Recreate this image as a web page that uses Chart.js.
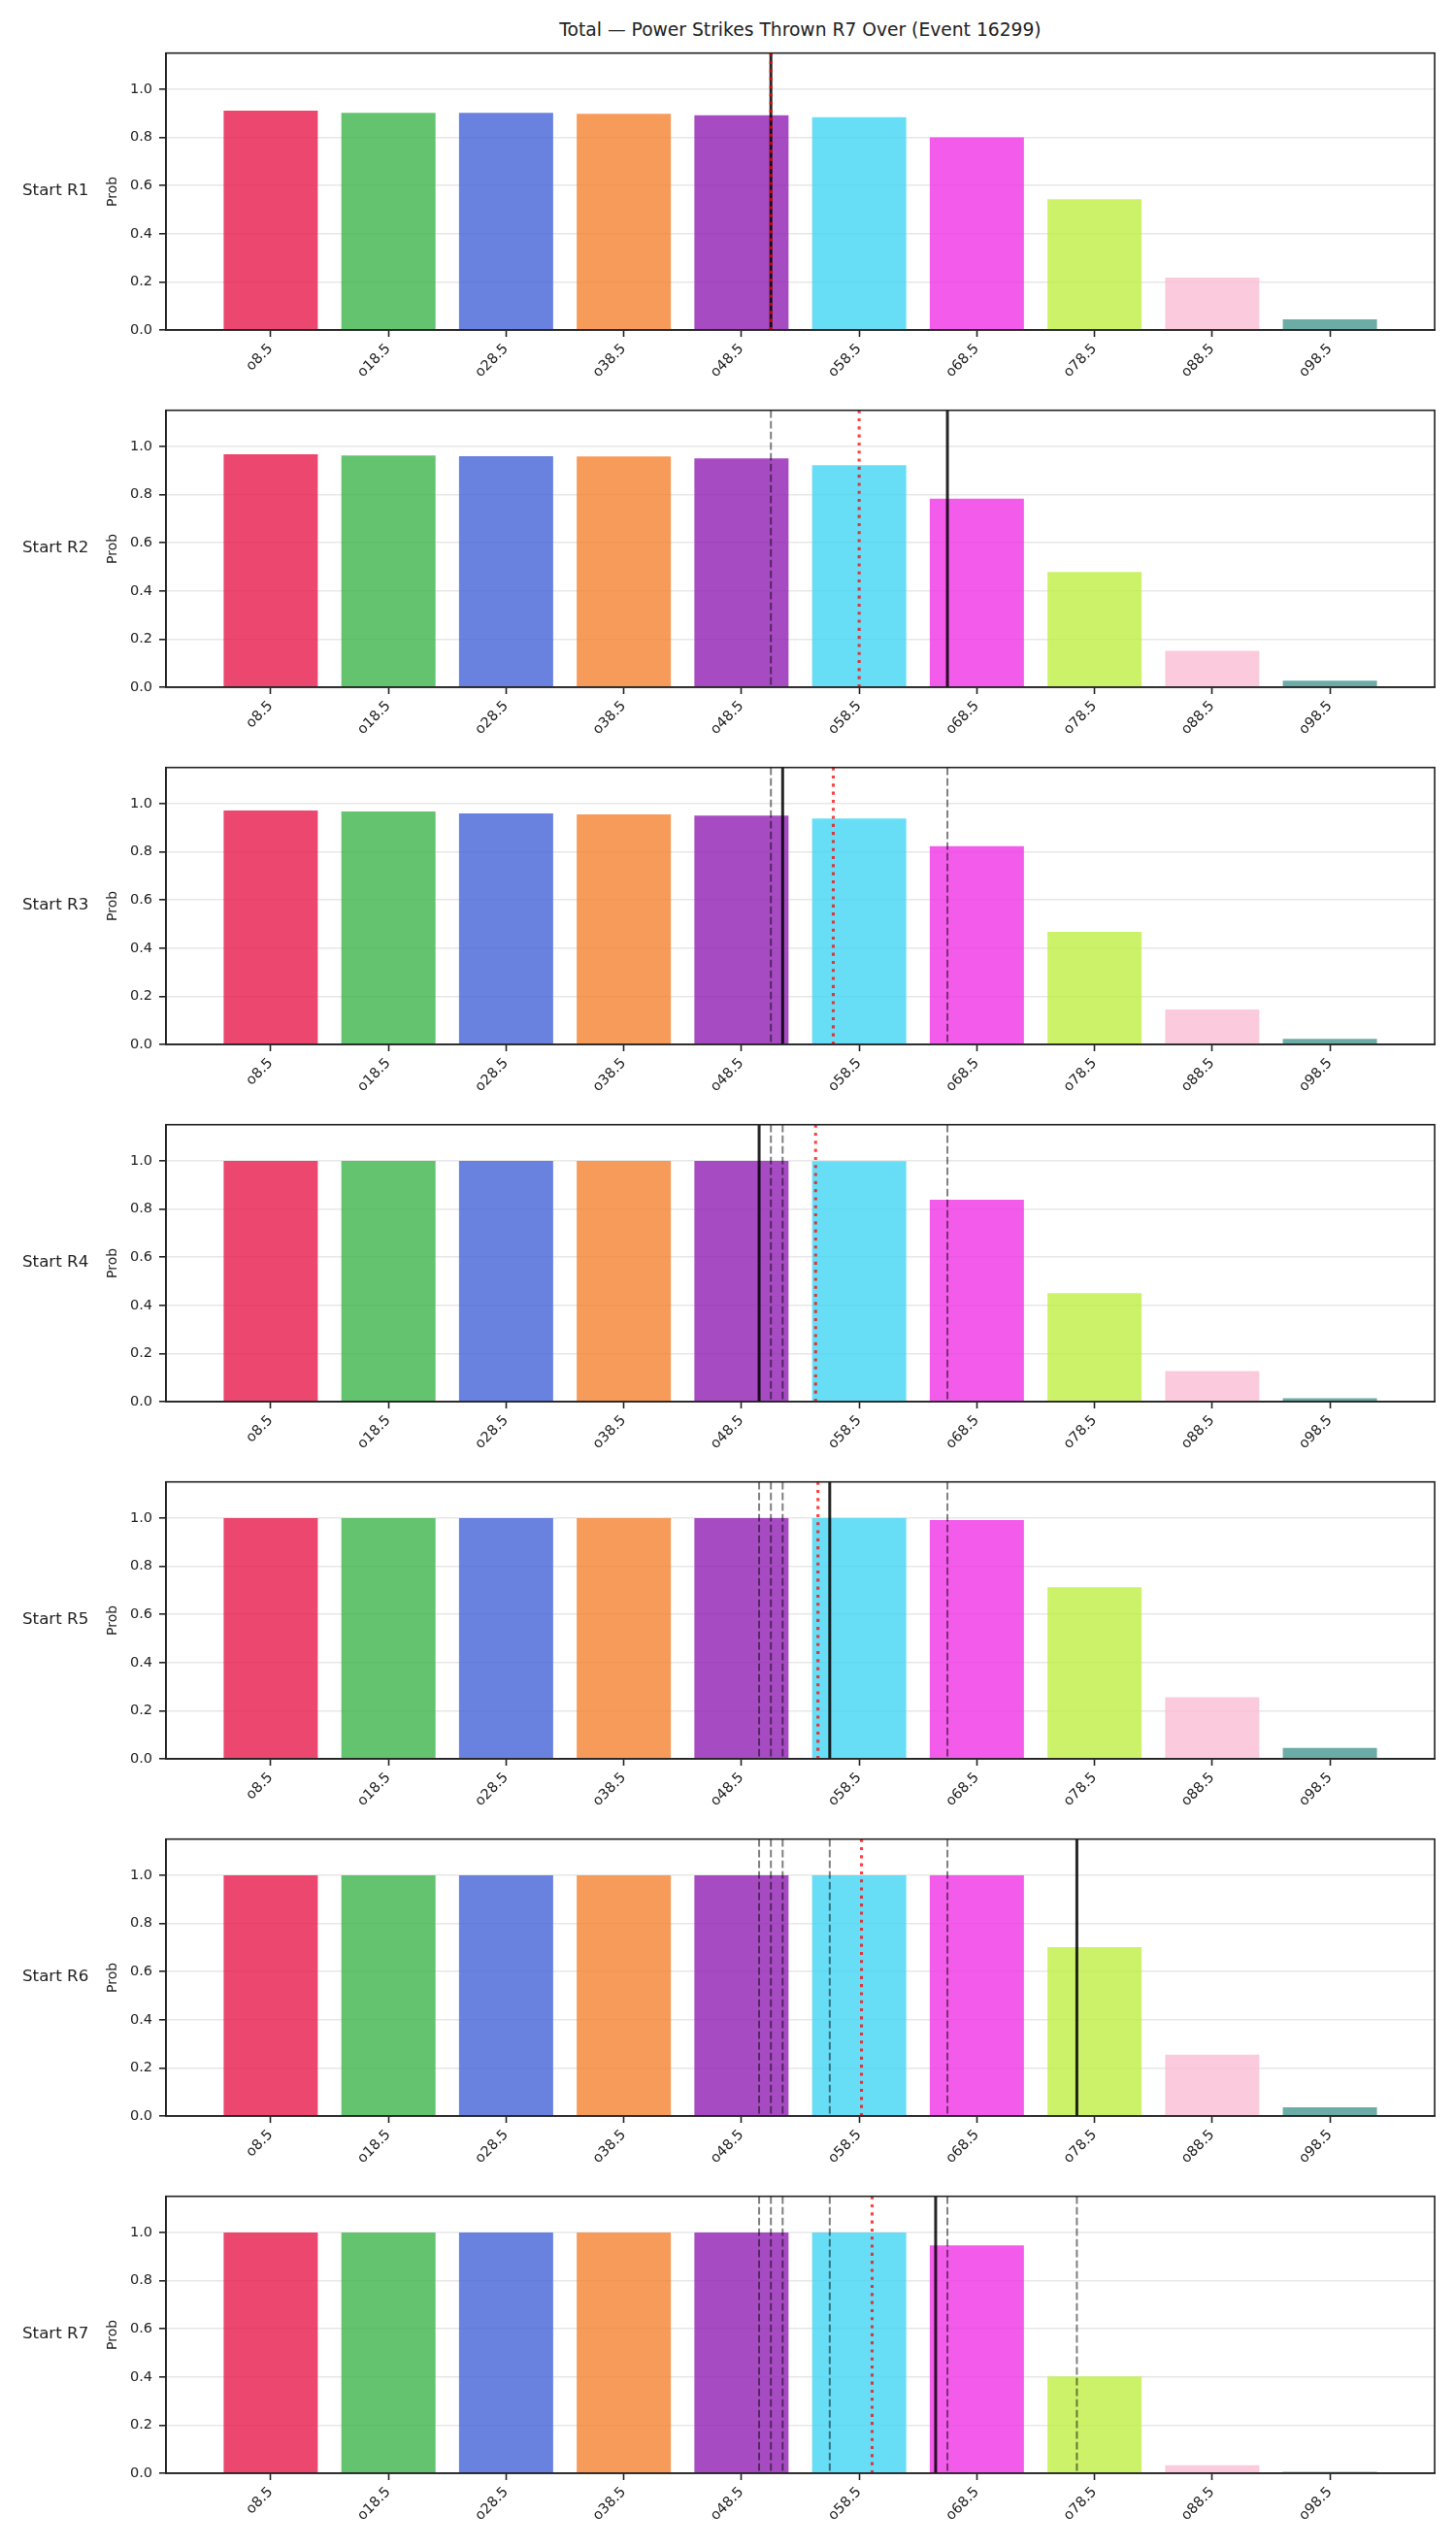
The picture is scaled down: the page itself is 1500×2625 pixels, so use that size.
<!DOCTYPE html>
<html>
<head>
<meta charset="utf-8">
<script src="https://cdn.jsdelivr.net/npm/chart.js@4.4.1/dist/chart.umd.min.js"></script>
<style>
  body { margin: 0; background: #fff; }
  #page { position: relative; width: 1500px; height: 2625px; font-family: "DejaVu Sans", sans-serif; color: #222; }
  .title { position: absolute; left: 171px; width: 1307px; top: 20px; line-height: 22px; text-align: center; font-size: 18.7px; }
  .rowlab { position: absolute; left: 23px; font-size: 16.7px; line-height: 20px; }
  canvas { position: absolute; left: 0; }
</style>
</head>
<body>
<div id="page">
  <div class="title">Total — Power Strikes Thrown R7 Over (Event 16299)</div>
</div>
<script>
// over/under thresholds (x) and their tick labels
var thresholds = [8.5, 18.5, 28.5, 38.5, 48.5, 58.5, 68.5, 78.5, 88.5, 98.5];
var tickLabels = ["o8.5", "o18.5", "o28.5", "o38.5", "o48.5", "o58.5", "o68.5", "o78.5", "o88.5", "o98.5"];
var barColors = ["#e6194b", "#3cb44b", "#4363d8", "#f58231", "#911eb4",
                 "#42d4f4", "#f032e6", "#bfef45", "#fabed4", "#469990"];

var rowLabels = ["Start R1", "Start R2", "Start R3", "Start R4", "Start R5", "Start R6", "Start R7"];

// P(over) per starting round
var probR1 = [0.911, 0.902, 0.902, 0.898, 0.892, 0.884, 0.800, 0.543, 0.218, 0.044];
var probR2 = [0.967, 0.962, 0.959, 0.958, 0.950, 0.922, 0.783, 0.479, 0.151, 0.027];
var probR3 = [0.971, 0.967, 0.959, 0.955, 0.950, 0.938, 0.823, 0.468, 0.145, 0.023];
var probR4 = [1.0, 1.0, 1.0, 1.0, 1.0, 0.999, 0.838, 0.450, 0.127, 0.014];
var probR5 = [1.0, 1.0, 1.0, 1.0, 1.0, 1.0, 0.992, 0.712, 0.256, 0.045];
var probR6 = [1.0, 1.0, 1.0, 1.0, 1.0, 1.0, 1.0, 0.701, 0.255, 0.036];
var probR7 = [1.0, 1.0, 1.0, 1.0, 1.0, 1.0, 0.946, 0.402, 0.033, 0.006];
var probRows = [probR1, probR2, probR3, probR4, probR5, probR6, probR7];

// solid black line per row, red dotted line per row (in strikes)
var actualLine = [51, 66, 52, 50, 56, 77, 65];
var projLine = [51.0, 58.5, 56.3, 54.8, 55.0, 58.7, 59.6];

var yTicks = [0, 0.2, 0.4, 0.6, 0.8, 1.0];

var panelTops = [49, 417, 785, 1153, 1521, 1889, 2257];
var panelH = 291;
var padTop = 10;
var xAxisH = 70;

function withAlpha(hex, a) {
  var n = parseInt(hex.slice(1), 16);
  return "rgba(" + (n >> 16) + "," + ((n >> 8) & 255) + "," + (n & 255) + "," + a + ")";
}

var markers = {
  id: "markers",
  afterDatasetsDraw: function(chart, args, opts) {
    var ctx = chart.ctx, a = chart.chartArea, x = chart.scales.x;
    ctx.save();
    ctx.beginPath();
    ctx.rect(a.left, a.top, a.right - a.left, a.bottom - a.top);
    ctx.clip();
    function vline(v, color, width, dash) {
      var px = x.getPixelForValue(v);
      ctx.beginPath();
      ctx.setLineDash(dash);
      ctx.strokeStyle = color;
      ctx.lineWidth = width;
      ctx.moveTo(px, a.top);
      ctx.lineTo(px, a.bottom);
      ctx.stroke();
    }
    opts.dashed.forEach(function(v) { vline(v, "rgba(0,0,0,0.5)", 2, [7.7, 3.3]); });
    vline(opts.solid, "rgba(0,0,0,0.85)", 3, []);
    vline(opts.dotted, "rgba(255,0,0,0.75)", 3.1, [3.1, 5.2]);
    ctx.restore();
  },
  afterDraw: function(chart) {
    var ctx = chart.ctx, a = chart.chartArea;
    ctx.save();
    ctx.strokeStyle = "#222";
    ctx.lineWidth = 1.6;
    ctx.strokeRect(a.left, a.top, a.right - a.left, a.bottom - a.top);
    ctx.restore();
  }
};

var page = document.getElementById("page");

probRows.forEach(function(vals, k) {
  var cv = document.createElement("canvas");
  cv.width = 1500;
  cv.height = padTop + panelH + xAxisH;
  cv.style.top = (panelTops[k] - padTop) + "px";
  page.appendChild(cv);

  var lab = document.createElement("div");
  lab.className = "rowlab";
  lab.textContent = rowLabels[k];
  lab.style.top = (panelTops[k] + panelH / 2 - 10) + "px";
  page.appendChild(lab);

  new Chart(cv, {
    type: "bar",
    data: {
      datasets: [{
        data: thresholds.map(function(t, i) { return { x: t, y: vals[i] }; }),
        backgroundColor: barColors.map(function(c) { return withAlpha(c, 0.8); }),
        borderWidth: 0,
        barPercentage: 0.8,
        categoryPercentage: 1.0
      }]
    },
    options: {
      responsive: false,
      animation: false,
      devicePixelRatio: 1,
      layout: { padding: { left: 100, right: 22, top: padTop, bottom: 0 } },
      plugins: {
        legend: { display: false },
        tooltip: { enabled: false },
        markers: {
          dashed: actualLine.slice(0, k),
          solid: actualLine[k],
          dotted: projLine[k]
        }
      },
      scales: {
        x: {
          type: "linear",
          min: -0.4,
          max: 107.4,
          offset: false,
          afterBuildTicks: function(s) { s.ticks = thresholds.map(function(t) { return { value: t }; }); },
          afterFit: function(s) { s.height = xAxisH; },
          ticks: {
            autoSkip: false,
            minRotation: 45,
            maxRotation: 45,
            padding: 4,
            color: "#222",
            font: { family: "DejaVu Sans", size: 14.5 },
            callback: function(v, i) { return tickLabels[i]; }
          },
          grid: { offset: false, drawOnChartArea: false, tickLength: 7, tickColor: "#222", tickWidth: 1.6 },
          border: { color: "#222", width: 1.6 }
        },
        y: {
          min: 0,
          max: 1.15,
          afterBuildTicks: function(s) { s.ticks = yTicks.map(function(t) { return { value: t }; }); },
          afterFit: function(s) { s.width = 71; },
          ticks: {
            padding: 7,
            color: "#222",
            font: { family: "DejaVu Sans", size: 14.5 },
            callback: function(v) { return v.toFixed(1); }
          },
          grid: { color: "rgba(176,176,176,0.3)", lineWidth: 1.6, tickLength: 7, tickColor: "#222", tickWidth: 1.6 },
          border: { color: "#222", width: 1.6 },
          title: {
            display: true,
            text: "Prob",
            color: "#222",
            font: { family: "DejaVu Sans", size: 14 },
            padding: { top: 8, bottom: 0 }
          }
        }
      }
    },
    plugins: [markers]
  });
});
</script>
</body>
</html>
